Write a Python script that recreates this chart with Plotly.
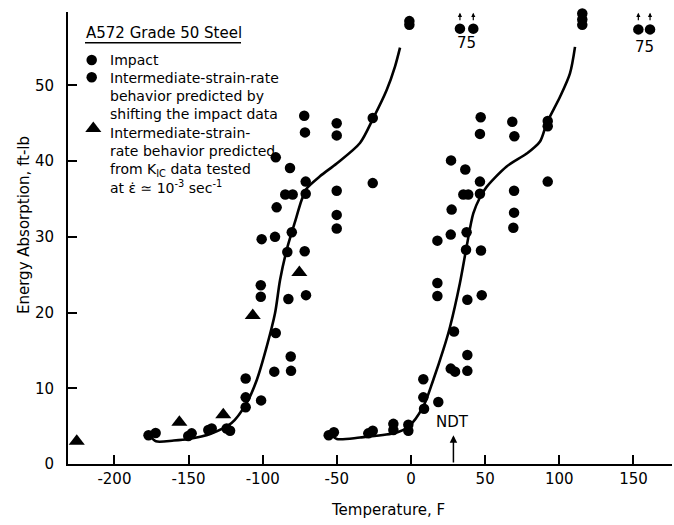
import plotly.graph_objects as go

# ---------------- data ----------------
# Impact data (right-hand cluster)
impact_T = [-55.5, -52.0, -28.8, -25.8, -11.9, -11.9, -1.8, -1.8, 8.8, 8.3, 18.4, 8.3,
            26.8, 29.7, 38.0, 38.0, 29.0, 17.8, 17.8, 38.0, 47.7, 37.1, 47.2, 17.8,
            26.8, 37.5, 27.4, 69.5, 69.0, 35.3, 38.6, 46.5, 69.5, 46.5, 36.6, 27.0,
            47.0, 46.5, 68.3, 69.7, 92.2, 92.2, 92.2, 115.5, 115.5, 115.5]
impact_E = [3.8, 4.2, 4.05, 4.4, 4.5, 5.3, 4.4, 5.2, 7.3, 8.8, 8.2, 11.2,
            12.6, 12.2, 12.3, 14.4, 17.5, 22.2, 23.9, 21.7, 22.3, 28.3, 28.2, 29.5,
            30.3, 30.6, 33.6, 33.2, 31.2, 35.6, 35.6, 35.7, 36.1, 37.3, 38.9, 40.1,
            45.8, 43.6, 45.2, 43.3, 45.3, 44.6, 37.3, 59.5, 58.7, 58.0]

# Intermediate-strain-rate behaviour predicted by shifting impact data (left cluster)
shift_T = [-177.0, -172.2, -150.2, -147.9, -136.7, -134.4, -124.3, -122.0, -111.5, -111.5,
           -101.1, -111.5, -92.2, -80.9, -81.1, -91.2, -101.3, -101.3, -82.7, -70.8,
           -83.4, -71.7, -100.7, -91.7, -80.4, -90.6, -50.1, -50.1, -84.8, -79.8,
           -71.0, -50.1, -71.0, -81.6, -91.2, -72.0, -71.5, -50.1, -50.1, -25.8,
           -25.8, -1.8, -1.1, -1.1]
shift_E = [3.8, 4.1, 3.7, 4.05, 4.5, 4.7, 4.7, 4.4, 7.5, 8.8,
           8.4, 11.3, 12.2, 12.3, 14.2, 17.3, 22.1, 23.6, 21.8, 22.3,
           28.0, 28.1, 29.7, 30.0, 30.6, 33.9, 32.9, 31.1, 35.6, 35.6,
           35.7, 36.1, 37.3, 39.1, 40.5, 46.0, 43.8, 45.0, 43.4, 45.7,
           37.1, 60.0, 58.5, 58.0]

# Off-scale specimens (75 ft-lb), plotted at top with arrows
off_T = [33.0, 42.0, 153.3, 161.2]
off_E = [57.5, 57.5, 57.4, 57.4]
off_label = "75"

# Predicted from K_IC data tested at strain rate 1e-3 /sec
kic_T = [-225.4, -156.2, -126.6, -106.7, -75.3]
kic_E = [3.0, 5.5, 6.5, 19.6, 25.3]

# Fitted transition curves
curve1_T = [-176, -172, -160, -150, -135, -121, -111, -104, -97.3, -91.7, -88.3, -83.8,
            -78.5, -73.7, -70.3, -61.4, -50.1, -34.4, -25.4, -16.4, -10.8, -7.4]
curve1_E = [3.7, 3.0, 3.1, 3.3, 4.0, 5.4, 8.0, 11.1, 15.5, 19.9, 24.3, 28.3,
            31.8, 34.9, 36.4, 38.0, 39.7, 42.4, 45.7, 49.4, 52.5, 55.0]
curve2_T = [-54, -50, -34.4, -11.9, -1.8, 8.3, 15, 21.8, 26.3, 33, 37.5, 42, 46.5, 51,
            64.5, 78, 87, 91.5, 100.5, 107.2, 110.6]
curve2_E = [3.9, 3.3, 3.5, 4.05, 4.9, 7.6, 11.1, 15.1, 18.1, 23.9, 28.7, 33.1, 35.2, 36.6,
            39.3, 41.0, 42.6, 45.0, 48.5, 51.6, 55.1]

NDT_T = 28.6

x_ticks = [-200, -150, -100, -50, 0, 50, 100, 150]
x_ticktext = ["-200", "-150", "-100", "-50", "0", "50", "100", "150"]
y_ticks = [0, 10, 20, 30, 40, 50]
y_ticktext = ["0", "10", "20", "30", "40", "50"]

# ---------------- layout geometry ----------------
W, H = 674, 525
ML, MR, MT, MB = 68, 2, 12, 61
PW, PH = W - ML - MR, H - MT - MB
FONT = "DejaVu Sans"
Y_TOP = 59.7


def px(x):
    return (x - ML) / PW


def py(y):
    return (H - MB - y) / PH


fig = go.Figure()

line_style = dict(color="black", width=2.6, shape="spline", smoothing=0.8)
fig.add_trace(go.Scatter(x=curve1_T, y=curve1_E, mode="lines", line=line_style,
                         showlegend=False, hoverinfo="skip"))
fig.add_trace(go.Scatter(x=curve2_T, y=curve2_E, mode="lines", line=line_style,
                         showlegend=False, hoverinfo="skip"))

dot = dict(symbol="circle", size=10.5, color="black", line=dict(width=0))
fig.add_trace(go.Scatter(x=impact_T, y=impact_E, mode="markers", marker=dot,
                         name="Impact", showlegend=False, cliponaxis=False))
fig.add_trace(go.Scatter(x=shift_T, y=shift_E, mode="markers", marker=dot,
                         name="Shifted", showlegend=False, cliponaxis=False))
fig.add_trace(go.Scatter(x=off_T, y=off_E, mode="markers", marker=dot,
                         showlegend=False, cliponaxis=False))
fig.add_trace(go.Scatter(x=kic_T, y=kic_E, mode="markers",
                         marker=dict(symbol="triangle-up", size=14, color="black", line=dict(width=0)),
                         showlegend=False, cliponaxis=False))

# legend symbols on an overlay axis spanning the plot area (0..1)
fig.add_trace(go.Scatter(x=[px(91.7), px(91.7)], y=[py(60), py(77.3)], mode="markers",
                         marker=dot, xaxis="x2", yaxis="y2", showlegend=False, cliponaxis=False))
fig.add_trace(go.Scatter(x=[px(93.3)], y=[py(128.5)], mode="markers",
                         marker=dict(symbol="triangle-up", size=14, color="black"),
                         xaxis="x2", yaxis="y2", showlegend=False, cliponaxis=False))

annotations = []
LFONT = dict(family=FONT, size=14, color="black")

# legend title + entries
annotations.append(dict(xref="paper", yref="paper", x=px(84), y=py(33), text="A572 Grade 50 Steel",
                        showarrow=False, xanchor="left", yanchor="middle",
                        font=dict(family=FONT, size=15, color="black")))
legend_entries = [
    ("Impact", 59.5),
    ("Intermediate-strain-rate<br>behavior predicted by<br>shifting the impact data", 96.0),
    ("Intermediate-strain-<br>rate behavior predicted<br>from K<sub>IC</sub> data tested<br>"
     "at \u03b5\u0307 \u2243 10<sup>-3</sup> sec<sup>-1</sup>", 160.5),
]
for txt, yy in legend_entries:
    annotations.append(dict(xref="paper", yref="paper", x=px(108), y=py(yy), text=txt,
                            showarrow=False, xanchor="left", yanchor="middle", align="left",
                            font=LFONT))

# off-scale arrows and "75" labels
for t in off_T:
    annotations.append(dict(xref="x", yref="y", x=t, y=59.6, text="", showarrow=True,
                            ax=0, ay=9, arrowhead=2, arrowsize=0.7, arrowwidth=1.2,
                            arrowcolor="black"))
for t, yy in [((off_T[0] + off_T[1]) / 2, 43.3), ((off_T[2] + off_T[3]) / 2, 46.7)]:
    annotations.append(dict(xref="x", yref="paper", x=t, y=py(yy), text=off_label, showarrow=False,
                            xanchor="center", yanchor="middle",
                            font=dict(family=FONT, size=15, color="black")))

# NDT marker
annotations.append(dict(xref="x", yref="y", x=NDT_T, y=3.8, ax=NDT_T, ay=0, axref="x", ayref="y",
                        text="", showarrow=True, arrowhead=2, arrowsize=1, arrowwidth=1.5,
                        arrowcolor="black"))
annotations.append(dict(xref="x", yref="paper", x=NDT_T - 0.5, y=py(422), text="NDT", showarrow=False,
                        xanchor="center", yanchor="middle",
                        font=dict(family=FONT, size=15, color="black")))

# axis titles
annotations.append(dict(xref="paper", yref="paper", x=px(388), y=py(510), text="Temperature, F",
                        showarrow=False, xanchor="center", yanchor="middle",
                        font=dict(family=FONT, size=15, color="black")))
annotations.append(dict(xref="paper", yref="paper", x=px(24), y=py(225),
                        text="Energy Absorption, ft-lb", textangle=-90,
                        showarrow=False, xanchor="center", yanchor="middle",
                        font=dict(family=FONT, size=15, color="black")))

shapes = [dict(type="line", xref="paper", yref="paper", x0=px(85), x1=px(241),
               y0=py(42.7), y1=py(42.7), line=dict(color="black", width=1.5))]

axis_common = dict(showline=True, linecolor="black", linewidth=2, ticks="inside",
                   ticklen=9, tickwidth=1.5, tickcolor="black", showgrid=False, zeroline=False,
                   tickfont=dict(family=FONT, size=15, color="black"), mirror=False)

fig.update_layout(
    width=W, height=H,
    margin=dict(l=ML, r=MR, t=MT, b=MB, pad=0),
    paper_bgcolor="white", plot_bgcolor="white",
    showlegend=False,
    xaxis=dict(range=[-231.3, 176], tickmode="array", tickvals=x_ticks, ticktext=x_ticktext,
               ticklabelstandoff=0, **axis_common),
    yaxis=dict(range=[0, Y_TOP], tickmode="array", tickvals=y_ticks, ticktext=y_ticktext,
               ticklabelstandoff=9, **axis_common),
    xaxis2=dict(overlaying="x", range=[0, 1], visible=False, fixedrange=True),
    yaxis2=dict(overlaying="y", range=[0, 1], visible=False, fixedrange=True),
    annotations=annotations,
    shapes=shapes,
)

fig.write_html("out.html")
